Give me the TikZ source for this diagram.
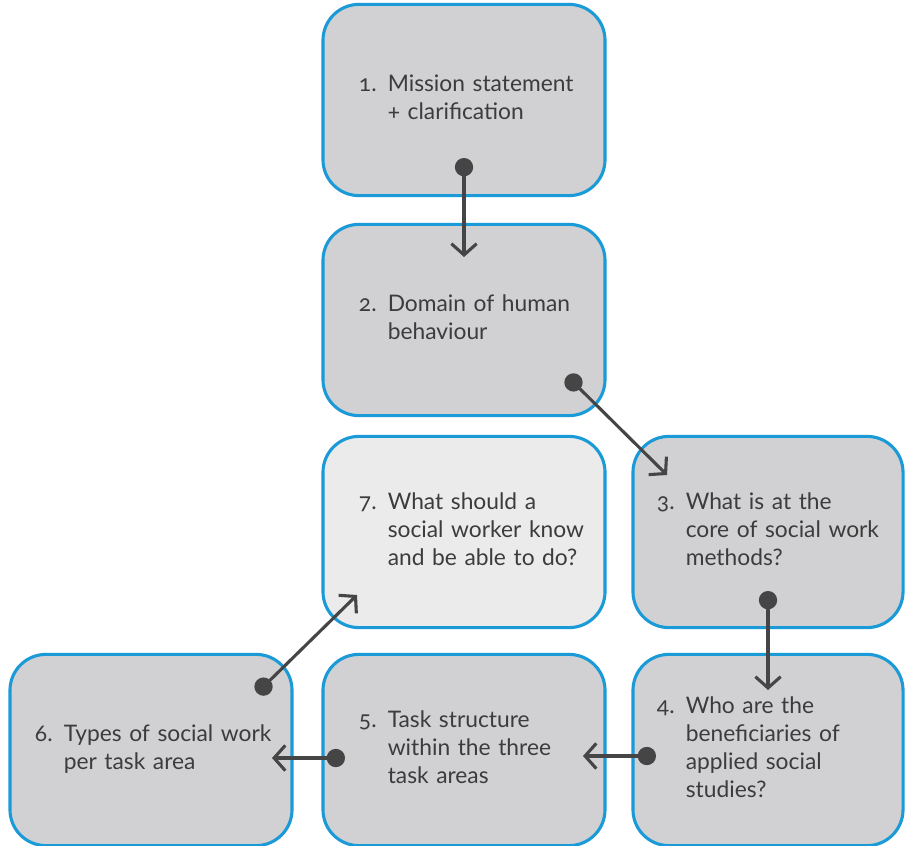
\documentclass[tikz,border=0pt]{standalone}
\usepackage{fontspec}
\setmainfont{Lato}[Numbers=OldStyle]
\usepackage{xcolor}
\usepackage{tikz}
\usetikzlibrary{arrows.meta}

\definecolor{boxblue}{HTML}{1A9AD6}
\definecolor{boxgray}{HTML}{D1D1D3}
\definecolor{boxlight}{HTML}{EBEBEB}
\definecolor{inkgray}{HTML}{3C3C3C}
\definecolor{linkgray}{HTML}{454545}

% number in front, lines aligned behind it
\newcommand{\numtext}[2]{\makebox[0.72cm][l]{#1}\begin{tabular}[t]{@{}l@{}}#2\end{tabular}}

\begin{document}
\begin{tikzpicture}[x=0.025cm, y=-0.025cm]
          % Define styles
          \tikzstyle{stage} = [draw=boxblue, line width=2.2pt, fill=boxgray, rounded corners=0.9cm,
                               minimum width=7.05cm, minimum height=4.78cm, inner sep=0pt,
                               text width=5.25cm, align=left,
                               text=inkgray, font=\fontsize{16.2}{19.8}\selectfont]
          \tikzstyle{narrow} = [minimum width=6.75cm, text width=5.55cm]
          \tikzstyle{link} = [draw=linkgray, line width=2.2pt,
                              {Circle[length=13pt]}-{Straight Barb[length=8pt, width=18pt]}]

          \useasboundingbox (0,0) rectangle (907,846);

          % Stages
          \node[stage] (m1) at (464,100) {\numtext{1.}{Mission statement\\+ clarification}};
          \node[stage] (m2) at (464,320) {\numtext{2.}{Domain of human\\behaviour}};
          \node[stage, narrow] (m3) at (768,532) {\numtext{3.}{What is at the\\core of social work\\methods?}};
          \node[stage, fill=boxlight] (m7) at (464,532) {\numtext{7.}{What should a\\social worker know\\and be able to do?}};
          \node[stage, narrow] (m4) at (768,750) {\numtext{4.}{Who are the\\beneficiaries of\\applied social\\studies?}};
          \node[stage] (m5) at (464,750) {\numtext{5.}{Task structure\\within the three\\task areas}};
          \node[stage, text width=5.8cm] (m6) at (151,750) {\numtext{6.}{Types of social work\\per task area}};

          % Links
          \draw[link] ([shift={(0,58)}]m1.center) -- ([shift={(0,-63)}]m2.center);
          \draw[link] ([shift={(103,56)}]m2.center) -- ([shift={(-101,-57)}]m3.center);
          \draw[link] ([shift={(0,59)}]m3.center) -- ([shift={(0,-60)}]m4.center);
          \draw[link] ([shift={(-112,6)}]m4.center) -- ([shift={(119,6)}]m5.center);
          \draw[link] ([shift={(-119,8)}]m5.center) -- ([shift={(121,8)}]m6.center);
          \draw[link] ([shift={(106,-57)}]m6.center) -- ([shift={(-107,63)}]m7.center);

     \end{tikzpicture}
\end{document}
